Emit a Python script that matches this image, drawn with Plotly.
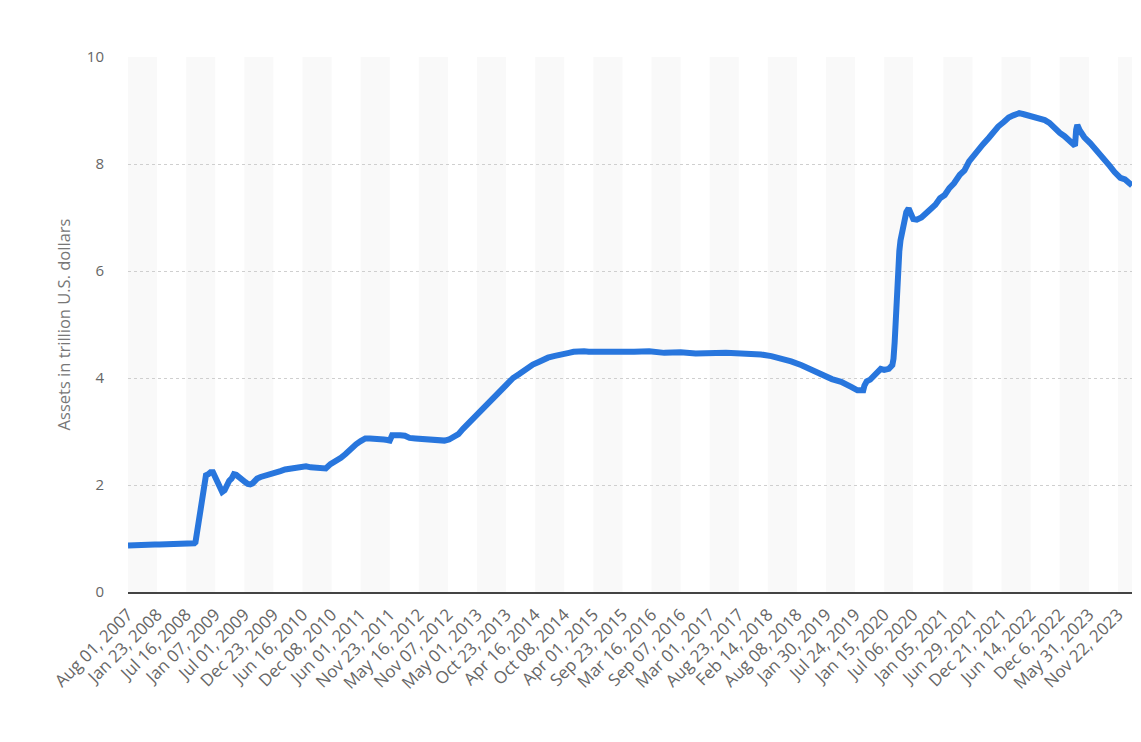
import plotly.graph_objects as go

# Total assets of the Federal Reserve, trillion U.S. dollars
dates = [
    "2007-08-01", "2007-09-05", "2007-10-03", "2007-11-07", "2007-12-05", "2007-12-26",
    "2008-01-09", "2008-02-06", "2008-03-05", "2008-04-02", "2008-05-07", "2008-06-04",
    "2008-07-02", "2008-08-06", "2008-09-03", "2008-09-10", "2008-09-17", "2008-09-24",
    "2008-10-01", "2008-10-15", "2008-10-29", "2008-11-12", "2008-11-26", "2008-12-10",
    "2008-12-24", "2009-01-07", "2009-01-21", "2009-02-04", "2009-02-18", "2009-03-04",
    "2009-03-18", "2009-04-01", "2009-04-15", "2009-04-29", "2009-05-13", "2009-05-27",
    "2009-06-10", "2009-06-24", "2009-07-08", "2009-07-22", "2009-08-05", "2009-08-19",
    "2009-09-02", "2009-09-16", "2009-10-07", "2009-11-04", "2009-12-02", "2010-01-06",
    "2010-02-03", "2010-03-03", "2010-04-07", "2010-05-05", "2010-06-02", "2010-07-07",
    "2010-08-04", "2010-09-01", "2010-10-06", "2010-11-03", "2010-12-01", "2011-01-05",
    "2011-02-02", "2011-03-02", "2011-04-06", "2011-05-04", "2011-06-01", "2011-06-29",
    "2011-07-27", "2011-08-24", "2011-09-21", "2011-10-19", "2011-11-09", "2011-11-23",
    "2011-12-07", "2011-12-28", "2012-01-25", "2012-02-22", "2012-03-21", "2012-04-25",
    "2012-05-23", "2012-06-20", "2012-07-18", "2012-08-22", "2012-09-19", "2012-10-17",
    "2012-11-14", "2012-12-12", "2013-01-09", "2013-02-06", "2013-03-06", "2013-04-03",
    "2013-05-01", "2013-06-05", "2013-07-03", "2013-08-07", "2013-09-04", "2013-10-02",
    "2013-11-06", "2013-12-04", "2014-01-08", "2014-02-05", "2014-03-05", "2014-04-02",
    "2014-05-07", "2014-06-04", "2014-07-02", "2014-08-06", "2014-09-03", "2014-10-01",
    "2014-11-05", "2014-12-03", "2015-01-07", "2015-02-04", "2015-03-04", "2015-06-03",
    "2015-09-02", "2015-12-02", "2016-03-02", "2016-06-01", "2016-09-07", "2016-12-07",
    "2017-03-01", "2017-06-07", "2017-09-06", "2017-12-06", "2018-01-03", "2018-03-07",
    "2018-05-02", "2018-07-04", "2018-09-05", "2018-11-07", "2019-01-02", "2019-03-06",
    "2019-05-01", "2019-06-05", "2019-07-03", "2019-08-07", "2019-08-28", "2019-09-11",
    "2019-09-18", "2019-10-02", "2019-10-23", "2019-11-13", "2019-12-04", "2019-12-25",
    "2020-01-15", "2020-02-12", "2020-03-04", "2020-03-11", "2020-03-18", "2020-03-25",
    "2020-04-01", "2020-04-08", "2020-04-15", "2020-04-22", "2020-04-29", "2020-05-13",
    "2020-05-27", "2020-06-10", "2020-06-24", "2020-07-08", "2020-07-29", "2020-08-26",
    "2020-09-23", "2020-10-21", "2020-11-18", "2020-12-16", "2021-01-13", "2021-02-10",
    "2021-03-10", "2021-04-14", "2021-05-12", "2021-06-09", "2021-07-07", "2021-08-04",
    "2021-09-01", "2021-10-06", "2021-11-03", "2021-12-01", "2022-01-05", "2022-02-02",
    "2022-03-02", "2022-04-06", "2022-05-04", "2022-06-01", "2022-07-06", "2022-08-03",
    "2022-09-07", "2022-10-05", "2022-11-02", "2022-12-07", "2023-01-04", "2023-02-01",
    "2023-03-08", "2023-03-15", "2023-03-22", "2023-04-05", "2023-05-03", "2023-06-07",
    "2023-07-05", "2023-08-02", "2023-09-06", "2023-10-04", "2023-11-01", "2023-12-06",
    "2024-01-03", "2024-01-31", "2024-02-14",
]

assets = [
    0.87, 0.88, 0.88, 0.89, 0.89, 0.91,
    0.89, 0.89, 0.89, 0.89, 0.89, 0.89,
    0.90, 0.90, 0.91, 0.93, 1.07, 1.22,
    1.50, 1.77, 1.97, 2.18, 2.20, 2.24,
    2.24, 2.14, 2.05, 1.93, 1.87, 1.90,
    2.03, 2.08, 2.12, 2.20, 2.19, 2.15,
    2.10, 2.07, 2.05, 2.02, 2.01, 2.03,
    2.08, 2.12, 2.15, 2.17, 2.19, 2.22,
    2.26, 2.29, 2.31, 2.34, 2.35, 2.35,
    2.33, 2.32, 2.31, 2.31, 2.39, 2.45,
    2.51, 2.58, 2.70, 2.76, 2.82, 2.87,
    2.87, 2.87, 2.86, 2.85, 2.84, 2.83,
    2.93, 2.94, 2.93, 2.92, 2.88, 2.87,
    2.86, 2.87, 2.85, 2.84, 2.82, 2.83,
    2.85, 2.89, 2.95, 3.05, 3.14, 3.23,
    3.32, 3.42, 3.53, 3.61, 3.70, 3.80,
    3.91, 4.00, 4.07, 4.14, 4.20, 4.25,
    4.30, 4.35, 4.38, 4.41, 4.42, 4.45,
    4.47, 4.49, 4.51, 4.50, 4.49, 4.50,
    4.49, 4.49, 4.50, 4.47, 4.48, 4.46,
    4.47, 4.47, 4.46, 4.45, 4.44, 4.41,
    4.37, 4.31, 4.24, 4.14, 4.06, 3.98,
    3.93, 3.86, 3.83, 3.77, 3.76, 3.77,
    3.86, 3.94, 3.97, 4.04, 4.10, 4.17,
    4.15, 4.17, 4.24, 4.36, 4.67, 5.25,
    5.81, 6.13, 6.37, 6.57, 6.66, 6.93,
    7.10, 7.17, 7.09, 6.97, 6.96, 7.00,
    7.08, 7.15, 7.24, 7.36, 7.42, 7.55,
    7.64, 7.80, 7.88, 8.05, 8.17, 8.27,
    8.37, 8.49, 8.60, 8.70, 8.79, 8.87,
    8.91, 8.95, 8.93, 8.91, 8.89, 8.87,
    8.82, 8.77, 8.68, 8.58, 8.52, 8.43,
    8.34, 8.64, 8.73, 8.63, 8.50, 8.39,
    8.29, 8.20, 8.10, 7.96, 7.85, 7.74,
    7.71, 7.63, 7.60,
]

tick_dates = [
    "2007-08-01", "2008-01-23", "2008-07-16", "2009-01-07", "2009-07-01", "2009-12-23",
    "2010-06-16", "2010-12-08", "2011-06-01", "2011-11-23", "2012-05-16", "2012-11-07",
    "2013-05-01", "2013-10-23", "2014-04-16", "2014-10-08", "2015-04-01", "2015-09-23",
    "2016-03-16", "2016-09-07", "2017-03-01", "2017-08-23", "2018-02-14", "2018-08-08",
    "2019-01-30", "2019-07-24", "2020-01-15", "2020-07-06", "2021-01-05", "2021-06-29",
    "2021-12-21", "2022-06-14", "2022-12-06", "2023-05-31", "2023-11-22",
]
tick_labels = [
    "Aug 01, 2007", "Jan 23, 2008", "Jul 16, 2008", "Jan 07, 2009", "Jul 01, 2009",
    "Dec 23, 2009", "Jun 16, 2010", "Dec 08, 2010", "Jun 01, 2011", "Nov 23, 2011",
    "May 16, 2012", "Nov 07, 2012", "May 01, 2013", "Oct 23, 2013", "Apr 16, 2014",
    "Oct 08, 2014", "Apr 01, 2015", "Sep 23, 2015", "Mar 16, 2016", "Sep 07, 2016",
    "Mar 01, 2017", "Aug 23, 2017", "Feb 14, 2018", "Aug 08, 2018", "Jan 30, 2019",
    "Jul 24, 2019", "Jan 15, 2020", "Jul 06, 2020", "Jan 05, 2021", "Jun 29, 2021",
    "Dec 21, 2021", "Jun 14, 2022", "Dec 6, 2022", "May 31, 2023", "Nov 22, 2023",
]

x_start = dates[0]
x_end = dates[-1]

fig = go.Figure()
fig.add_trace(go.Scatter(
    x=dates, y=assets, mode="lines",
    line=dict(color="#2876dd", width=6, shape="linear"),
    hoverinfo="x+y", showlegend=False,
))

# alternating background bands between ticks
edges = tick_dates + [x_end]
shapes = []
for i in range(0, len(edges) - 1, 2):
    shapes.append(dict(
        type="rect", xref="x", yref="y",
        x0=edges[i], x1=edges[i + 1], y0=0, y1=10,
        fillcolor="#f9f9f9", line=dict(width=0), layer="below",
    ))

# the page body has an 8px margin, so the figure is sized to fit the window
fig.update_layout(
    width=1133, height=734,
    margin=dict(l=120, r=9, t=49, b=150),
    paper_bgcolor="white", plot_bgcolor="white",
    font=dict(family="Open Sans, DejaVu Sans, sans-serif", color="#666666"),
    shapes=shapes,
    xaxis=dict(
        type="date", range=[x_start, x_end],
        tickmode="array", tickvals=tick_dates, ticktext=tick_labels,
        tickangle=-45, tickfont=dict(size=17, color="#666666"),
        showgrid=False, zeroline=False,
        showline=True, linecolor="#444444", linewidth=2,
        ticks="", ticklabelstandoff=4,
    ),
    yaxis=dict(
        range=[0, 10], tickvals=[0, 2, 4, 6, 8, 10],
        tickfont=dict(size=15, color="#666666"),
        showgrid=True, gridcolor="#cfcfcf", griddash="dot", gridwidth=1,
        zeroline=False, showline=False, ticks="",
        ticklabelstandoff=23,
        title=dict(text="Assets in trillion U.S. dollars",
                   font=dict(size=16.5, color="#777777"), standoff=12),
    ),
)

fig.write_html("out.html")
